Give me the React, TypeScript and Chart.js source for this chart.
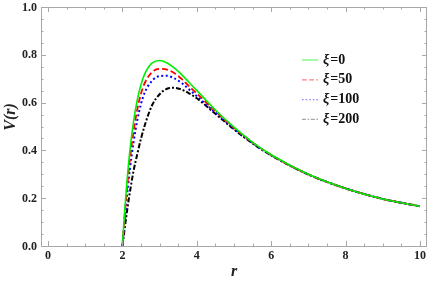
import { useEffect, useRef } from "react";
import { Chart, registerables } from "chart.js";

Chart.register(...registerables);

const rValues = [2, 2.05, 2.1, 2.2, 2.3, 2.4, 2.5, 2.6, 2.8, 3.0, 3.2, 3.4, 3.6, 3.8, 4.0, 4.5, 5, 5.5, 6, 7, 8, 9, 10];
const vXi0 = [0, 0.124, 0.229, 0.399, 0.522, 0.612, 0.676, 0.72, 0.766, 0.776, 0.766, 0.744, 0.716, 0.683, 0.651, 0.569, 0.497, 0.434, 0.382, 0.3, 0.241, 0.197, 0.166];
const vXi50 = [0, 0.105, 0.2, 0.36, 0.48, 0.572, 0.638, 0.682, 0.728, 0.741, 0.738, 0.723, 0.698, 0.667, 0.638, 0.564, 0.494, 0.433, 0.381, 0.3, 0.241, 0.197, 0.166];
const vXi100 = [0, 0.09, 0.175, 0.32, 0.435, 0.527, 0.595, 0.642, 0.692, 0.711, 0.712, 0.701, 0.681, 0.654, 0.627, 0.558, 0.491, 0.431, 0.38, 0.3, 0.241, 0.197, 0.166];
const vXi200 = [0, 0.06, 0.12, 0.225, 0.315, 0.385, 0.45, 0.505, 0.59, 0.635, 0.658, 0.662, 0.654, 0.638, 0.618, 0.553, 0.488, 0.429, 0.379, 0.299, 0.241, 0.197, 0.166];

const xiValues = ["0", "50", "100", "200"];
const xMajorTicks = [0, 2, 4, 6, 8, 10];
const xTickLabels = ["0", "2", "4", "6", "8", "10"];
const yMajorTicks = [0, 0.2, 0.4, 0.6, 0.8, 1.0];
const yTickLabels = ["0.0", "0.2", "0.4", "0.6", "0.8", "1.0"];
const xMinorStep = 0.5;
const yMinorStep = 0.05;
const xTitle = "r";
const yTitle = "V(r)";

const colors = ["#00ee00", "#ff0000", "#0000ff", "#000000"];
const legendColors = ["rgba(0,238,0,0.6)", "rgba(255,0,0,0.5)", "rgba(0,0,255,0.45)", "rgba(0,0,0,0.35)"];
const dashes = [[], [6, 3], [2, 2.5], [5, 2, 2, 2]];
const widths = [1.6, 1.8, 2, 2];

const FRAME = "#a8a8a8";
const SERIF = "'Liberation Serif', 'DejaVu Serif', serif";

const framePlugin = {
  id: "mmaFrame",
  afterDatasetsDraw(chart: any) {
    const ctx = chart.ctx as CanvasRenderingContext2D;
    const { left, right, top, bottom } = chart.chartArea;
    const xs = chart.scales.x;
    const ys = chart.scales.y;
    ctx.save();
    ctx.strokeStyle = FRAME;
    ctx.lineWidth = 1;
    ctx.beginPath();
    ctx.rect(Math.round(left) + 0.5, Math.round(top) + 0.5, Math.round(right - left) - 1, Math.round(bottom - top));
    ctx.stroke();

    // x ticks
    const drawX = (v: number, len: number) => {
      const px = Math.round(xs.getPixelForValue(v)) + 0.5;
      ctx.beginPath();
      ctx.moveTo(px, bottom);
      ctx.lineTo(px, bottom - len);
      ctx.moveTo(px, top);
      ctx.lineTo(px, top + len);
      ctx.stroke();
    };
    for (let k = 0; k <= 20; k++) {
      const v = k * xMinorStep;
      const major = xMajorTicks.includes(v);
      drawX(v, major ? 5 : 2.5);
    }
    const drawY = (v: number, len: number) => {
      const py = Math.round(ys.getPixelForValue(v)) + 0.5;
      ctx.beginPath();
      ctx.moveTo(left, py);
      ctx.lineTo(left + len, py);
      ctx.moveTo(right, py);
      ctx.lineTo(right - len, py);
      ctx.stroke();
    };
    for (let k = 0; k <= 20; k++) {
      const v = Math.round(k * yMinorStep * 100) / 100;
      const major = yMajorTicks.some((t) => Math.abs(t - v) < 1e-6);
      drawY(v, major ? 5 : 2.5);
    }

    // tick labels
    ctx.fillStyle = "#222";
    ctx.font = `bold 12px ${SERIF}`;
    ctx.textAlign = "right";
    ctx.textBaseline = "middle";
    yMajorTicks.forEach((v, i) => {
      ctx.fillText(yTickLabels[i], left - 4, ys.getPixelForValue(v) + 0.5);
    });
    ctx.textAlign = "center";
    ctx.textBaseline = "top";
    xMajorTicks.forEach((v, i) => {
      ctx.fillText(xTickLabels[i], xs.getPixelForValue(v), bottom + 4);
    });

    // axis titles
    ctx.font = `italic bold 16px ${SERIF}`;
    ctx.textBaseline = "middle";
    ctx.fillText(xTitle, (left + right) / 2, 272);
    ctx.save();
    ctx.translate(11, 117);
    ctx.rotate(-Math.PI / 2);
    ctx.fillText(yTitle, 0, 0);
    ctx.restore();

    // legend
    const lx0 = 302;
    const lx1 = 318;
    const ly0 = 60;
    const dy = 19.8;
    xiValues.forEach((xi, i) => {
      const y = ly0 + i * dy;
      ctx.strokeStyle = legendColors[i];
      ctx.lineWidth = 1.2;
      ctx.setLineDash(dashes[i].length ? dashes[i].map((d) => d * 0.8) : []);
      ctx.beginPath();
      ctx.moveTo(lx0, y);
      ctx.lineTo(lx1, y);
      ctx.stroke();
      ctx.setLineDash([]);
      ctx.fillStyle = "#111";
      ctx.textAlign = "left";
      ctx.textBaseline = "middle";
      ctx.font = `italic bold 14px ${SERIF}`;
      ctx.fillText("ξ", 323, y);
      const w = ctx.measureText("ξ").width;
      ctx.font = `bold 14px ${SERIF}`;
      ctx.fillText("=" + xi, 323 + w + 1, y);
    });
    ctx.restore();
  },
};

export default function App() {
  const canvasRef = useRef<HTMLCanvasElement | null>(null);

  useEffect(() => {
    if (!canvasRef.current) return;
    const series = [vXi0, vXi50, vXi100, vXi200];
    const chart = new Chart(canvasRef.current, {
      type: "scatter",
      data: {
        datasets: series.map((vals, i) => ({
          label: "ξ=" + xiValues[i],
          data: rValues.map((r, j) => ({ x: r, y: vals[j] })),
          showLine: true,
          borderColor: colors[i],
          borderWidth: widths[i],
          borderDash: dashes[i],
          pointRadius: 0,
          fill: false,
          cubicInterpolationMode: "monotone" as const,
        })),
      },
      options: {
        responsive: false,
        animation: false,
        devicePixelRatio: 1,
        layout: { padding: { left: 41, right: 0, top: 7, bottom: 41 } },
        plugins: { legend: { display: false }, tooltip: { enabled: false } },
        scales: {
          x: { type: "linear", display: false, min: -0.19, max: 10.19 },
          y: { type: "linear", display: false, min: 0, max: 1 },
        },
      },
      plugins: [framePlugin],
    });
    return () => chart.destroy();
  }, []);

  return (
    <div style={{ position: "absolute", left: 0, top: 0, width: 427, height: 287, background: "#fff" }}>
      <canvas ref={canvasRef} width={427} height={287} />
    </div>
  );
}
